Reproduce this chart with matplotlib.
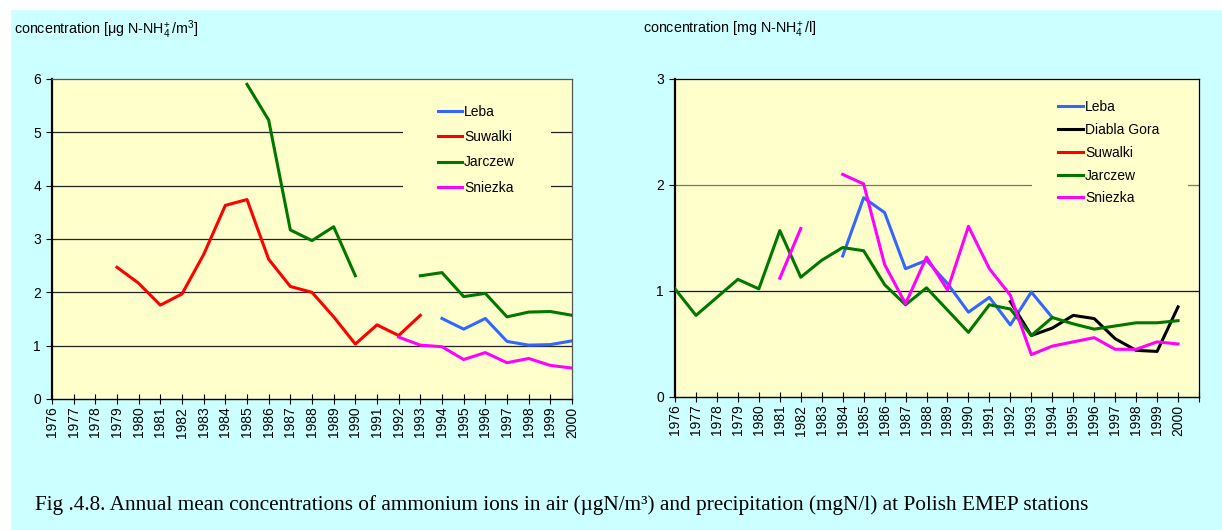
import numpy as np
import matplotlib.pyplot as plt
from matplotlib.patches import Rectangle

nan = np.nan

# lata 1976-2000
lata = list(range(1976, 2001))

# stezenie w powietrzu [ug N-NH4+/m3]
air_leba = [nan]*18 + [1.51, 1.31, 1.51, 1.08, 1.01, 1.02, 1.09]
air_suwalki = [nan]*3 + [2.47, 2.17, 1.76, 1.97, 2.71, 3.63, 3.74, 2.62, 2.11, 2.00,
                         1.54, 1.03, 1.39, 1.19, 1.57] + [nan]*7
air_jarczew = [nan]*9 + [5.90, 5.23, 3.17, 2.97, 3.23, 2.31, nan, nan,
                         2.31, 2.37, 1.92, 1.98, 1.54, 1.63, 1.64, 1.57]
air_sniezka = [nan]*16 + [1.16, 1.01, 0.98, 0.74, 0.87, 0.68, 0.76, 0.63, 0.58]

# stezenie w opadach [mg N-NH4+/l]
prec_leba = [nan]*8 + [1.33, 1.88, 1.74, 1.21, 1.29, 1.07, 0.80, 0.94, 0.68, 0.99, 0.75] + [nan]*6
prec_diabla = [nan]*16 + [0.90, 0.58, 0.65, 0.77, 0.74, 0.55, 0.44, 0.43, 0.85]
prec_suwalki = [nan]*25
prec_jarczew = [1.02, 0.77, 0.94, 1.11, 1.02, 1.57, 1.13, 1.29, 1.41, 1.38, 1.06, 0.87,
                1.03, 0.82, 0.61, 0.87, 0.83, 0.58, 0.75, 0.69, 0.64, 0.67, 0.70, 0.70, 0.72]
prec_sniezka = [nan]*5 + [1.12, 1.59, nan, 2.10, 2.01, 1.25, 0.88, 1.32, 1.01, 1.61,
                          1.21, 0.96, 0.40, 0.48, 0.52, 0.56, 0.45, 0.45, 0.52, 0.50]

cyan = '#CCFFFF'
yellow = '#FFFFCC'
c_leba = '#3366FF'
c_suw = '#FF0000'
c_jar = '#007700'
c_snie = '#FF00FF'
c_diab = '#000000'

plt.rcParams['font.family'] = ['Liberation Sans', 'DejaVu Sans']
plt.rcParams['mathtext.fontset'] = 'custom'
plt.rcParams['mathtext.rm'] = 'Liberation Sans'
plt.rcParams['mathtext.it'] = 'Liberation Sans'

W, H = 1222, 530
fig = plt.figure(figsize=(W/100, H/100), dpi=100, facecolor=cyan)
# biale marginesy u gory i z lewej
fig.patches.append(Rectangle((0, 1-9/H), 1, 9/H, transform=fig.transFigure, color='white', zorder=0))
fig.patches.append(Rectangle((0, 0), 10/W, 1, transform=fig.transFigure, color='white', zorder=0))


def styl(ax, ymax, xmax, gridcol):
    ax.set_facecolor(yellow)
    ax.set_xlim(1976, xmax)
    ax.set_ylim(0, ymax)
    ax.set_yticks(range(0, ymax+1))
    ax.set_xticks(list(range(1976, xmax+1)))
    ax.set_xticklabels([str(r) if r <= 2000 else '' for r in range(1976, xmax+1)],
                       rotation=90, fontsize=10)
    ax.tick_params(axis='x', direction='inout', length=7, width=0.8, pad=2)
    ax.tick_params(axis='y', direction='out', length=4, width=0.8, labelsize=10, pad=4)
    for y in range(1, ymax):
        ax.axhline(y, color=gridcol[y-1], lw=0.9, zorder=1)
    ax.spines['left'].set_linewidth(1.6)
    ax.spines['bottom'].set_linewidth(1.0)
    for s in ['top', 'right']:
        ax.spines[s].set_color('#555555')
        ax.spines[s].set_linewidth(0.9)


def legenda(ax, x, y, hl, ls, gap):
    # tlo legendy przykrywa linie siatki
    ax.add_patch(Rectangle((gap[0], gap[1]), gap[2], gap[3], transform=ax.transAxes,
                           facecolor=yellow, edgecolor='none', zorder=2))
    ax.legend(loc='upper left', bbox_to_anchor=(x, y), frameon=False, fontsize=10,
              handlelength=hl, handletextpad=0.15, labelspacing=ls,
              borderpad=0, borderaxespad=0)


# wykres lewy - powietrze
ax1 = fig.add_axes([52/W, 1-399/H, 520/W, 320/H])
styl(ax1, 6, 2000, ['#222222']*5)
ax1.plot(lata, air_leba, color=c_leba, lw=2.2, label='Leba', zorder=3)
ax1.plot(lata, air_suwalki, color=c_suw, lw=2.2, label='Suwalki', zorder=3)
ax1.plot(lata, air_jarczew, color=c_jar, lw=2.2, label='Jarczew', zorder=3)
ax1.plot(lata, air_sniezka, color=c_snie, lw=2.2, label='Sniezka', zorder=3)
legenda(ax1, 0.742, 0.92, 1.73, 0.82, (0.675, 0.6, 0.285, 0.32))
fig.text(14/W, 1-30/H, r'concentration [$\mathregular{\mu}$g N-NH$_4^{\!+}$/m$^3$]',
         fontsize=10.3, ha='left', va='center')

# wykres prawy - opady
ax2 = fig.add_axes([675/W, 1-397/H, 524/W, 318/H])
styl(ax2, 3, 2001, ['#111111', '#777766'])
ax2.spines['top'].set_color('black')
ax2.spines['right'].set_color('black')
ax2.plot(lata, prec_leba, color=c_leba, lw=2.2, label='Leba', zorder=3)
ax2.plot(lata, prec_diabla, color=c_diab, lw=2.2, label='Diabla Gora', zorder=3)
ax2.plot(lata, prec_suwalki, color=c_suw, lw=2.2, label='Suwalki', zorder=3)
ax2.plot(lata, prec_jarczew, color=c_jar, lw=2.2, label='Jarczew', zorder=3)
ax2.plot(lata, prec_sniezka, color=c_snie, lw=2.2, label='Sniezka', zorder=3)
legenda(ax2, 0.731, 0.933, 1.8, 0.63, (0.681, 0.55, 0.298, 0.38))
fig.text(643/W, 1-30/H, r'concentration [mg N-NH$_4^{\!+}$/l]',
         fontsize=10.3, ha='left', va='center')

# podpis
fig.text(35/W, 1-505/H,
         'Fig .4.8. Annual mean concentrations of ammonium ions in air (\u00b5gN/m\u00b3) '
         'and precipitation (mgN/l) at Polish EMEP stations',
         fontsize=15.3, family='Liberation Serif', ha='left', va='center')

fig.savefig('out.png', dpi=100, facecolor=fig.get_facecolor())
